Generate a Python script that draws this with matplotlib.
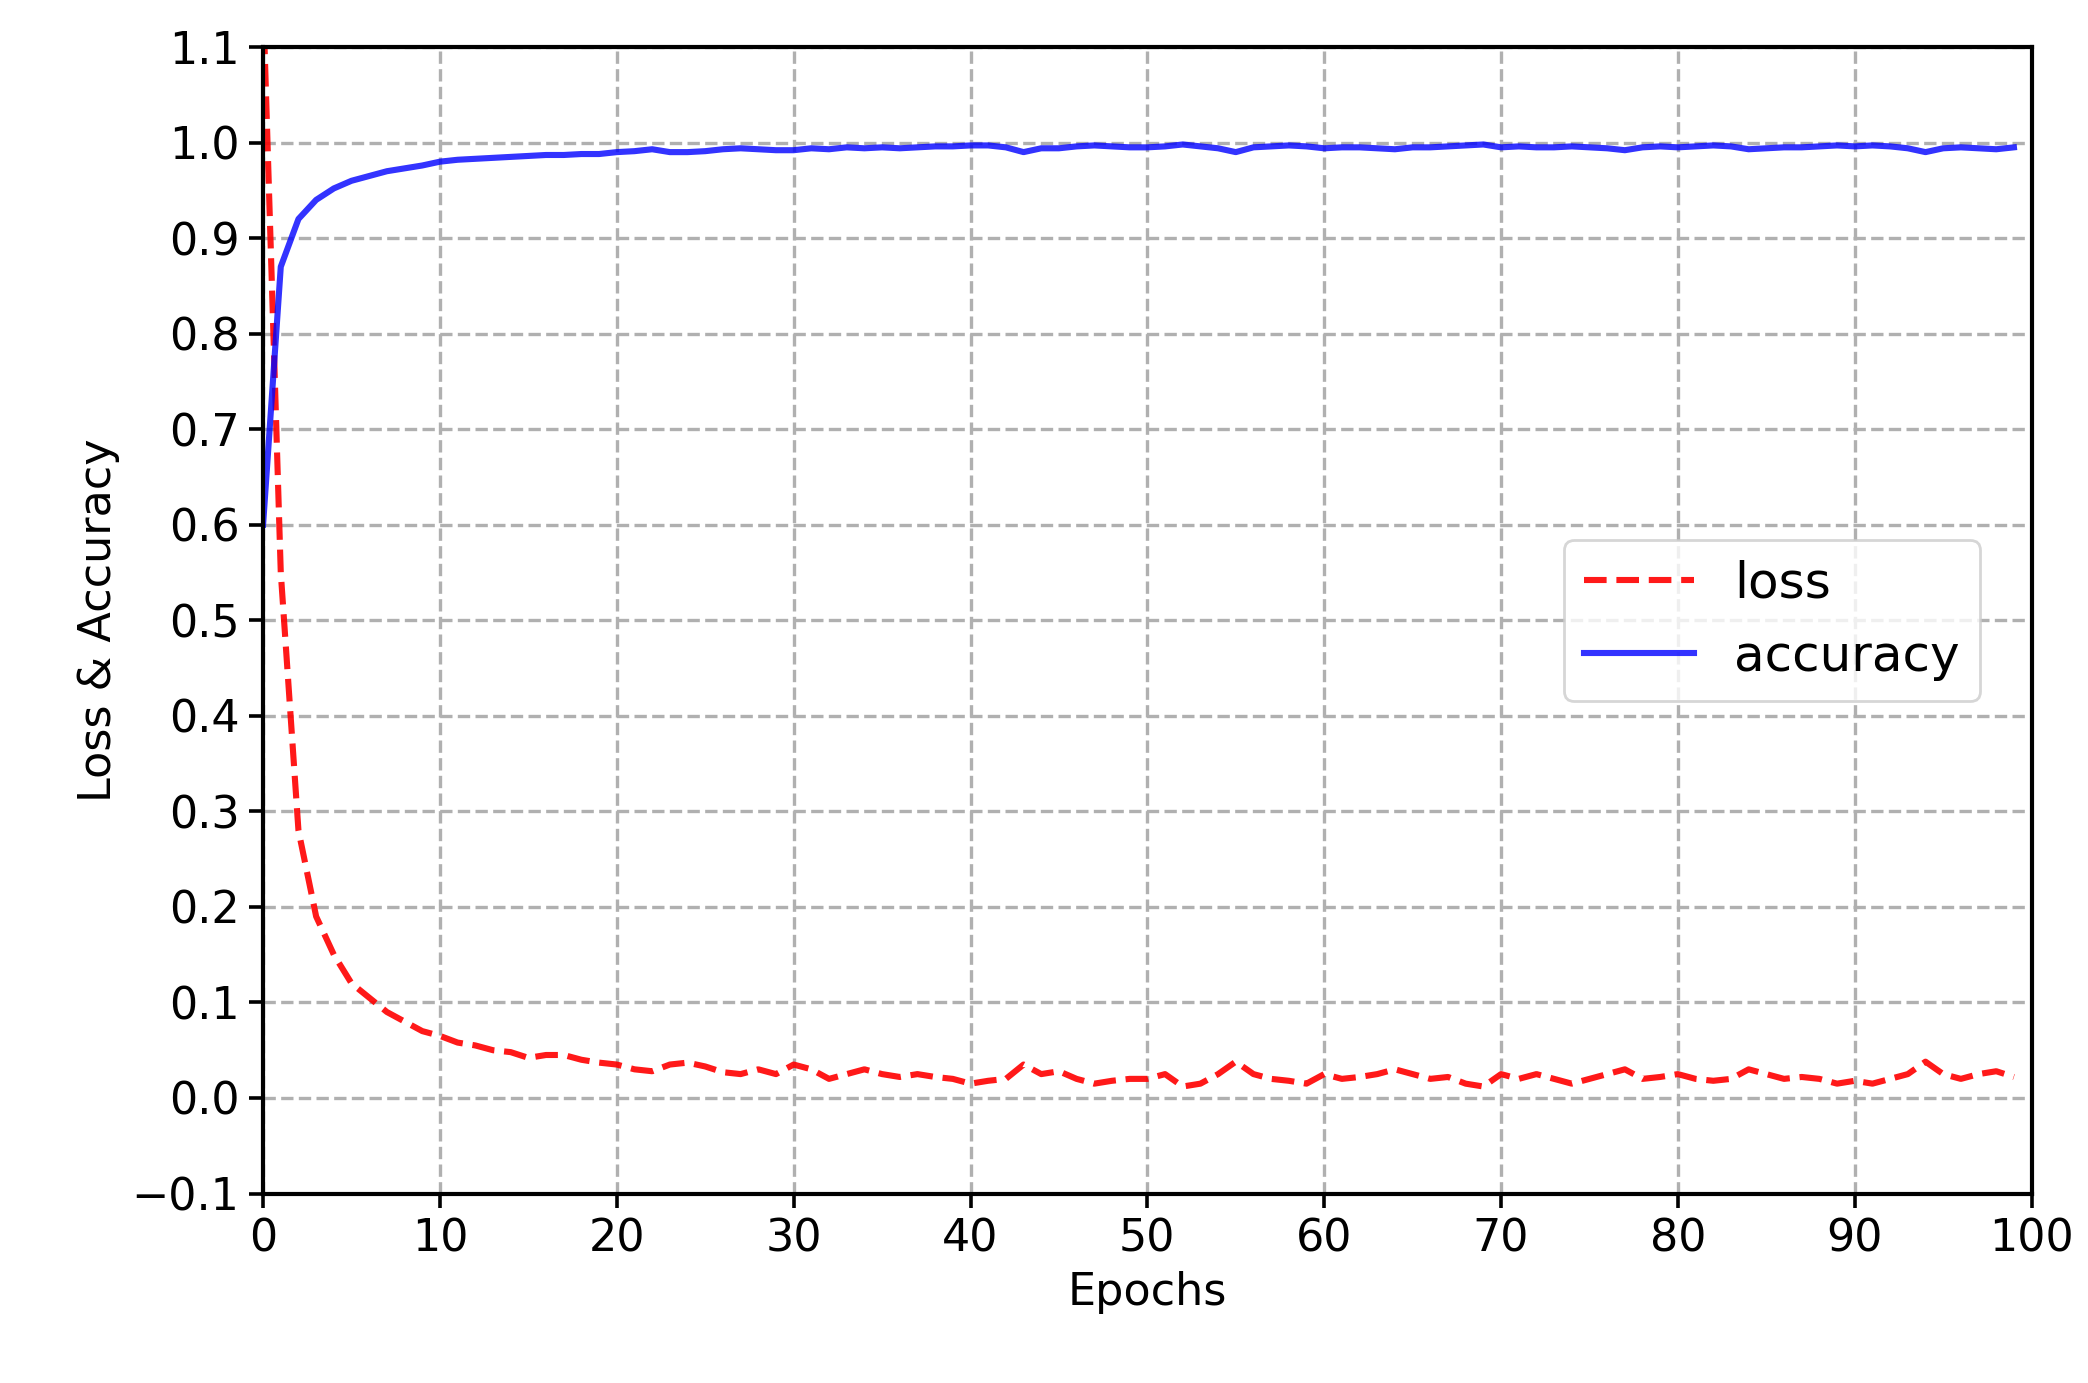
import matplotlib
matplotlib.use("Agg")
import matplotlib.pyplot as plt
import numpy as np

epochs = list(range(100))
loss = [1.15,0.55,0.28,0.19,0.15,0.12,0.105,0.09,0.08,0.07,0.065,0.058,0.055,0.05,0.048,0.042,0.045,0.045,0.04,0.037,
        0.035,0.03,0.028,0.035,0.037,0.033,0.027,0.025,0.03,0.025,0.035,0.03,0.02,0.025,0.03,0.025,0.022,0.025,0.022,0.02,
        0.015,0.018,0.02,0.035,0.025,0.028,0.02,0.015,0.018,0.02,0.02,0.025,0.012,0.015,0.025,0.038,0.025,0.02,0.018,0.015,
        0.025,0.02,0.022,0.025,0.03,0.025,0.02,0.022,0.015,0.012,0.025,0.02,0.025,0.02,0.015,0.02,0.025,0.03,0.02,0.022,
        0.025,0.02,0.018,0.02,0.03,0.025,0.02,0.022,0.02,0.015,0.018,0.015,0.02,0.025,0.038,0.025,0.02,0.025,0.028,0.022]
accuracy = [0.6,0.87,0.92,0.94,0.952,0.96,0.965,0.97,0.973,0.976,0.98,0.982,0.983,0.984,0.985,0.986,0.987,0.987,0.988,0.988,
            0.99,0.991,0.993,0.99,0.99,0.991,0.993,0.994,0.993,0.992,0.992,0.994,0.993,0.995,0.994,0.995,0.994,0.995,0.996,0.996,
            0.997,0.997,0.995,0.99,0.994,0.994,0.996,0.997,0.996,0.995,0.995,0.996,0.998,0.996,0.994,0.99,0.995,0.996,0.997,0.996,
            0.994,0.995,0.995,0.994,0.993,0.995,0.995,0.996,0.997,0.998,0.995,0.996,0.995,0.995,0.996,0.995,0.994,0.992,0.995,0.996,
            0.995,0.996,0.997,0.996,0.993,0.994,0.995,0.995,0.996,0.997,0.996,0.997,0.996,0.994,0.99,0.994,0.995,0.994,0.993,0.995]

fig = plt.figure(figsize=(10.44, 6.915), dpi=200)
ax = fig.add_axes([0.126, 0.137, 0.847, 0.829])
ax.plot(epochs, loss, 'r--', lw=2.2, label='loss', alpha=0.9)
ax.plot(epochs, accuracy, 'b-', lw=2.2, label='accuracy', alpha=0.8)
ax.set_xlim(0, 100)
ax.set_ylim(-0.1, 1.1)
ax.set_xticks(np.arange(0, 101, 10))
yt = np.round(np.arange(-0.1, 1.11, 0.1), 1)
ax.set_yticks(yt)
ax.set_yticklabels([f"{v:.1f}".replace("-", "\u2212") for v in yt])
ax.grid(True, linestyle='--', color='#b0b0b0', lw=1.2)
ax.tick_params(labelsize=16, length=5, width=1.3)
for s in ax.spines.values():
    s.set_linewidth(1.5)
ax.set_xlabel('Epochs', fontsize=16)
ax.set_ylabel('Loss & Accuracy', fontsize=16)
ax.legend(loc='center right', bbox_to_anchor=(0.985, 0.5), fontsize=18, handlelength=2.2)
fig.savefig('out.png', dpi=200)
